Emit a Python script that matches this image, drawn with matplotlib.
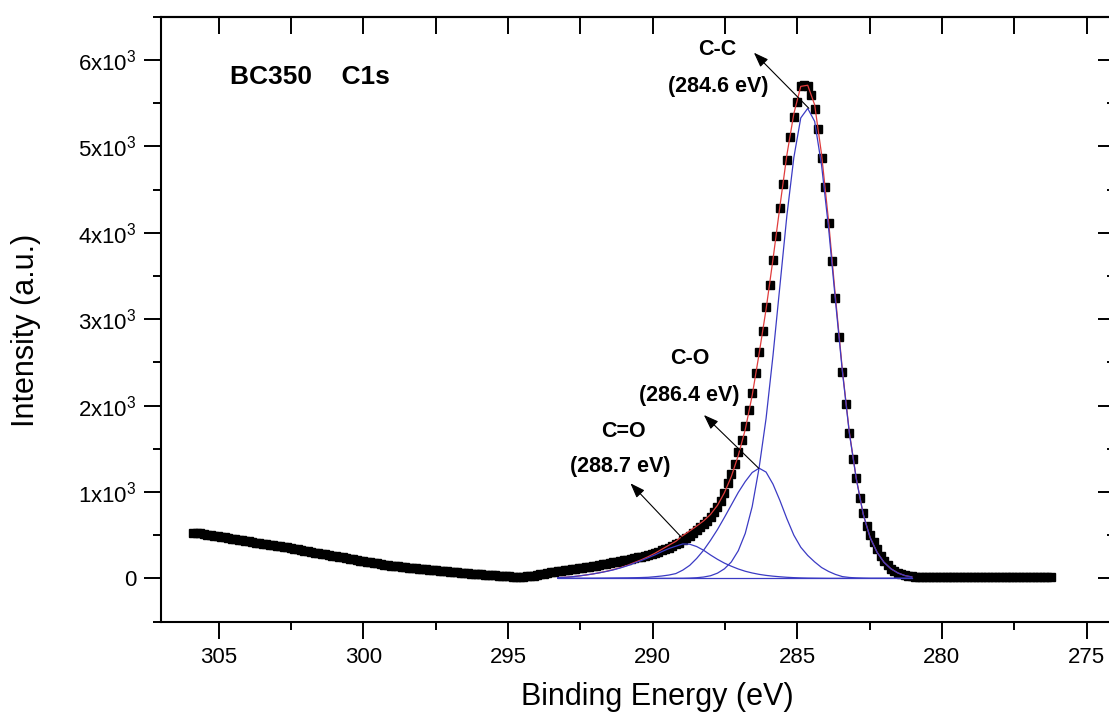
import numpy as np
import matplotlib.pyplot as plt
from matplotlib.ticker import MultipleLocator, FuncFormatter, NullFormatter

plt.rcParams['font.family'] = ['Liberation Sans', 'DejaVu Sans']
plt.rcParams['mathtext.default'] = 'regular'

# ---- measured C1s spectrum (counts), uniform binding-energy grid ----
e_start = 305.88
e_step = 0.12
intensity = [
    528, 525, 519, 513, 507, 500, 495, 486, 480, 473,
    464, 457, 452, 446, 439, 433, 427, 421, 414, 409,
    402, 396, 391, 384, 378, 371, 363, 357, 349, 342,
    334, 327, 320, 313, 305, 297, 291, 283, 276, 268,
    262, 255, 249, 242, 234, 228, 220, 213, 206, 200,
    193, 186, 179, 172, 166, 160, 154, 148, 142, 137,
    131, 127, 122, 118, 114, 110, 106, 103, 100, 96,
    92, 88, 85, 81, 78, 74, 70, 66, 63, 59,
    55, 52, 48, 45, 42, 39, 36, 33, 30, 28,
    25, 22, 20, 18, 18, 20, 23, 27, 31, 36,
    45, 52, 60, 68, 74, 80, 86, 92, 98, 104,
    110, 116, 122, 128, 134, 140, 147, 154, 161, 168,
    176, 184, 192, 200, 208, 216, 224, 233, 242, 252,
    262, 273, 285, 297, 310, 323, 340, 355, 372, 392,
    414, 440, 466, 494, 524, 556, 590, 627, 667, 712,
    763, 825, 900, 990, 1100, 1208, 1320, 1460, 1600, 1765,
    1950, 2150, 2380, 2615, 2865, 3140, 3390, 3690, 3960, 4290,
    4560, 4840, 5110, 5340, 5510, 5700, 5715, 5700, 5600, 5435,
    5200, 4870, 4530, 4110, 3670, 3240, 2790, 2390, 2020, 1680,
    1385, 1165, 935, 755, 610, 500, 415, 338, 262, 200,
    150, 112, 84, 64, 49, 38, 30, 24, 20, 17,
    15, 14, 13, 14, 12, 13, 12, 11, 12, 13,
    12, 11, 12, 12, 11, 12, 13, 11, 12, 12,
    11, 12, 12, 11, 12, 11, 12, 12, 11, 12,
    11, 12, 12, 11, 12, 11, 12, 12,
]

# ---- fitted components, coarser grid 293.28 -> 281.04 eV ----
comp_start = 293.28
comp_step = 0.24
peak_cc = [
    0, 0, 0, 0, 0, 0, 0, 0, 0, 0,
    0, 0, 0, 0, 0, 0, 0, 1, 1, 3,
    7, 15, 30, 60, 110, 190, 320, 520, 830, 1280,
    1850, 2580, 3390, 4200, 4870, 5330, 5440, 5290, 4780, 4060,
    3210, 2390, 1680, 1150, 740, 470, 300, 185, 110, 62,
    32, 16,
]
peak_co = [
    0, 0, 0, 0, 0, 0, 1, 2, 3, 4,
    5, 7, 9, 12, 19, 27, 38, 55, 95, 150,
    230, 325, 440, 565, 705, 850, 995, 1120, 1225, 1275,
    1230, 1090, 900, 690, 500, 360, 265, 190, 125, 80,
    45, 20, 10, 5, 2, 0, 0, 0, 0, 0,
    0, 0,
]
peak_cdo = [
    8, 12, 18, 27, 38, 50, 64, 80, 98, 120,
    145, 175, 205, 238, 272, 310, 345, 372, 398, 395,
    368, 325, 270, 220, 176, 140, 108, 82, 62, 46,
    34, 25, 18, 12, 8, 5, 3, 2, 1, 0,
    0, 0, 0, 0, 0, 0, 0, 0, 0, 0,
    0, 0,
]

peak_names = ['C-C', 'C-O', 'C=O']
peak_energies = ['(284.6 eV)', '(286.4 eV)', '(288.7 eV)']
# label position (name, energy line), arrow tip, arrow tail in data coords
name_xy = [(287.77, 6124), (288.73, 2545), (291.01, 1697)]
energy_xy = [(287.74, 5691), (288.72, 2114), (291.11, 1292)]
arrow_tip = [(286.50, 6085), (288.23, 1891), (290.77, 1100)]
arrow_tail = [(284.60, 5441), (286.33, 1273), (288.86, 424)]

energy = e_start - e_step * np.arange(len(intensity))
comp_energy = comp_start - comp_step * np.arange(len(peak_cc))
envelope = np.array(peak_cc) + np.array(peak_co) + np.array(peak_cdo)
baseline = [0] * len(comp_energy)

fig = plt.figure(figsize=(11.09, 7.13), dpi=100)
ax = fig.add_axes([0.1452, 0.1283, 0.8606, 0.8481])

ax.plot(energy, intensity, 's', color='black', ms=5.6, zorder=2)
ax.plot(comp_energy, envelope, color='#e03c3c', lw=0.9, zorder=3)
blue = '#3b3bc4'
ax.plot(comp_energy, baseline, color=blue, lw=0.9, zorder=4)
for comp in (peak_cdo, peak_co, peak_cc):
    ax.plot(comp_energy, comp, color=blue, lw=0.9, zorder=4)

ax.set_xlim(307, 274)
ax.set_ylim(-500, 6500)

ax.text(304.6, 5807, 'BC350    C1s', fontsize=19, fontweight='bold', ha='left', va='center')
for i in range(3):
    ax.text(name_xy[i][0], name_xy[i][1], peak_names[i], fontsize=15.5,
            fontweight='bold', ha='center', va='center')
    ax.text(energy_xy[i][0], energy_xy[i][1], peak_energies[i], fontsize=15.5,
            fontweight='bold', ha='center', va='center')
    ax.annotate('', xy=arrow_tip[i], xytext=arrow_tail[i],
                arrowprops=dict(arrowstyle='-|>,head_length=0.6,head_width=0.22',
                                color='black', lw=0.8, mutation_scale=15,
                                shrinkA=0, shrinkB=0), zorder=5)

# ticks
ax.xaxis.set_major_locator(MultipleLocator(5))
ax.xaxis.set_minor_locator(MultipleLocator(2.5))
ax.yaxis.set_major_locator(MultipleLocator(1000))
ax.yaxis.set_minor_locator(MultipleLocator(500))


def sci_fmt(v, pos):
    if abs(v) < 1e-9:
        return '0'
    return r'$%dx10^3$' % int(round(v / 1000))


ax.yaxis.set_major_formatter(FuncFormatter(sci_fmt))
ax.tick_params(axis='both', which='major', direction='out', length=12, width=1.4,
               labelsize=16, top=False, right=False)
ax.tick_params(axis='both', which='minor', direction='out', length=6, width=1.4,
               top=False, right=False)
ax.tick_params(axis='x', which='major', pad=6)
ax.tick_params(axis='y', which='major', pad=6)

top = ax.secondary_xaxis('top')
top.xaxis.set_major_locator(MultipleLocator(2.5))
top.xaxis.set_major_formatter(NullFormatter())
top.tick_params(axis='x', which='major', direction='in', length=12, width=1.4)

right = ax.secondary_yaxis('right')
right.yaxis.set_major_locator(MultipleLocator(1000))
right.yaxis.set_minor_locator(MultipleLocator(500))
right.yaxis.set_major_formatter(NullFormatter())
right.tick_params(axis='y', which='major', direction='in', length=12, width=1.4)
right.tick_params(axis='y', which='minor', direction='in', length=6, width=1.4)

for sp in ax.spines.values():
    sp.set_linewidth(1.5)
top.spines['top'].set_linewidth(1.5)
right.spines['right'].set_linewidth(1.5)

ax.set_xlabel('Binding Energy (eV)', fontsize=22)
ax.xaxis.set_label_coords(0.52, -0.125)
ax.xaxis.label.set_va('center')
ax.set_ylabel('Intensity (a.u.)', fontsize=22)
ax.yaxis.set_label_coords(-0.141, 0.482)
ax.yaxis.label.set_va('center')

fig.savefig('out.png', dpi=100)
